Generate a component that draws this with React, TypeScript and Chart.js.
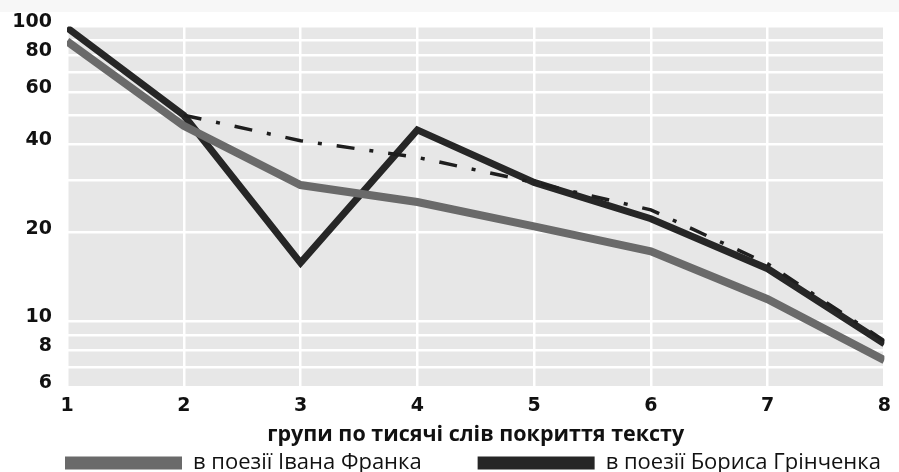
import React, { useEffect, useRef } from "react";
import { Chart, registerables } from "chart.js";

Chart.register(...registerables);

const xValues = [1, 2, 3, 4, 5, 6, 7, 8];
const frankoValues = [89, 46, 29, 25.4, 21, 17.3, 11.9, 7.4];
const hrinchenkoValues = [99, 50, 15.8, 44.6, 29.6, 22.3, 15.1, 8.4];
const trendValues = [null, 50, 41, 36, 29.6, 23.9, 15.7, 8.6];
const yGridValues = [6, 7, 8, 9, 10, 20, 30, 40, 50, 60, 70, 80, 90, 100];
const yTickLabels = [6, 8, 10, 20, 40, 60, 80, 100];
const xTitle = "групи по тисячі слів покриття тексту";
const frankoLabel = "в поезії Івана Франка";
const hrinchenkoLabel = "в поезії Бориса Грінченка";

const toPoints = (vals: (number | null)[]) =>
  xValues.map((x, i) => ({ x, y: vals[i] }));

const bgPlugin = {
  id: "plotBg",
  afterLayout(chart: any) {
    // align legend start with the left edge of the plot area
    const lg = chart.legend;
    if (lg) {
      const shift = chart.chartArea.left - 2 - lg.left - 12;
      lg.left += shift;
      lg.right += shift + 40;
    }
  },
  beforeDraw(chart: any) {
    const { ctx, chartArea } = chart;
    ctx.save();
    ctx.fillStyle = "#f7f7f7";
    ctx.fillRect(0, 0, chart.width, 12);
    ctx.fillStyle = "#e7e7e7";
    ctx.fillRect(
      chartArea.left,
      chartArea.top,
      chartArea.right - chartArea.left,
      chartArea.bottom - chartArea.top
    );
    ctx.restore();
  },
};

export default function App() {
  const ref = useRef<HTMLCanvasElement>(null);
  useEffect(() => {
    if (!ref.current) return;
    const chart = new Chart(ref.current, {
      type: "line",
      data: {
        datasets: [
          {
            label: "trend",
            data: toPoints(trendValues) as any,
            borderColor: "#1e1e1e",
            borderWidth: 3.5,
            borderDash: [18, 15, 4, 15],
            borderCapStyle: "butt",
            pointRadius: 0,
            fill: false,
            order: 0,
            spanGaps: false,
          },
          {
            label: frankoLabel,
            data: toPoints(frankoValues) as any,
            borderColor: "#6a6a6a",
            backgroundColor: "#6a6a6a",
            borderWidth: 8,
            borderCapStyle: "butt",
            borderJoinStyle: "miter",
            pointRadius: 0,
            fill: false,
            order: 1,
          },
          {
            label: hrinchenkoLabel,
            data: toPoints(hrinchenkoValues) as any,
            borderColor: "#262626",
            backgroundColor: "#262626",
            borderWidth: 7,
            borderCapStyle: "butt",
            borderJoinStyle: "miter",
            pointRadius: 0,
            fill: false,
            order: 2,
          },
        ],
      },
      options: {
        responsive: false,
        animation: false,
        layout: { padding: { left: 8, right: 4, top: 8, bottom: -12 } },
        scales: {
          x: {
            type: "linear",
            min: 1,
            max: 8,
            afterFit: (scale: any) => {
              scale.height = 53;
            },
            ticks: {
              stepSize: 1,
              padding: 8,
              color: "#111",
              font: { family: "DejaVu Sans", weight: "bold", size: 19 },
            },
            grid: { color: "#ffffff", lineWidth: 2.5, drawTicks: false },
            border: { display: false },
            title: {
              display: true,
              text: xTitle,
              color: "#111",
              padding: { top: 0, bottom: -8 },
              font: { family: "Open Sans", weight: "bold", size: 21.5 },
            },
          },
          y: {
            type: "logarithmic",
            min: 6,
            max: 100,
            afterBuildTicks: (scale: any) => {
              scale.ticks = yGridValues.map((v) => ({ value: v }));
            },
            afterFit: (scale: any) => {
              scale.width = 59;
            },
            ticks: {
              autoSkip: false,
              padding: 15,
              labelOffset: -4,
              color: "#111",
              font: { family: "DejaVu Sans", weight: "bold", size: 19 },
              callback: (v: any) =>
                yTickLabels.includes(Number(v)) ? String(v) : "",
            },
            grid: { color: "#ffffff", lineWidth: 2.5, drawTicks: false },
            border: { display: false },
          },
        },
        plugins: {
          tooltip: { enabled: false },
          legend: {
            position: "bottom",
            align: "start",
            labels: {
              filter: (item: any) => item.text !== "trend",
              generateLabels: (ch: any) => {
                const items = Chart.defaults.plugins.legend.labels.generateLabels(ch);
                return items.map((it: any) => ({
                  ...it,
                  lineWidth: 0,
                  text: it.text === frankoLabel ? frankoLabel + "\u2003\u2003" : it.text,
                }));
              },
              boxWidth: 117,
              boxHeight: 13,
              padding: 12,
              color: "#111",
              font: { family: "Open Sans", size: 22 },
            },
          },
        },
      },
      plugins: [bgPlugin],
    });
    return () => chart.destroy();
  }, []);
  return (
    <div style={{ position: "absolute", left: 0, top: 0, width: 899, height: 472, background: "#fff" }}>
      <canvas ref={ref} width={899} height={472} />
    </div>
  );
}
